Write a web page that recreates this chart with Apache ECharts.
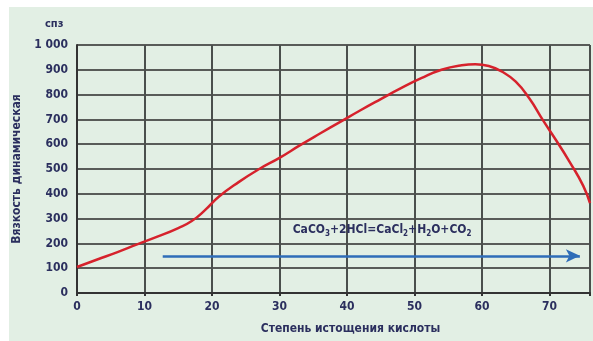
<!DOCTYPE html>
<html><head><meta charset="utf-8">
<script src="https://cdn.jsdelivr.net/npm/echarts@6/dist/echarts.min.js"></script>
<style>html,body{margin:0;padding:0;background:#fff}#c{width:593px;height:341px}</style>
</head><body><div id="c"></div>
<script>
// data
const depletion = [0,3,6,9,12,15,17,19,21,24,27,30,33,36,39,42,45,48,51,54,57,59,61,63,65,67,69,71,73,75,76];
const viscosity = [105,135,165,197,228,262,290,335,388,448,500,545,595,643,690,737,782,826,866,900,918,922,915,892,852,785,698,615,528,432,362];
const arrowX = [12.7, 74.5];
const arrowY = 150;
const yTicks = [0,100,200,300,400,500,600,700,800,900,1000];
const xTicks = [0,10,20,30,40,50,60,70];
const formulaPos = [45.2, 254];

const F = '"DejaVu Sans Condensed", "Liberation Sans Narrow", sans-serif';
const TXT = '#2b2f5e';
const chart = echarts.init(document.getElementById('c'));
chart.setOption({
  animation:false,
  backgroundColor:'#fff',
  graphic:[{type:'rect', z:-10, shape:{x:9,y:7,width:584,height:334}, style:{fill:'#e2efe4'}}],
  title:{text:'спз', left:40, top:14, textStyle:{fontFamily:F,fontWeight:'bold',fontSize:11,color:TXT}},
  grid:{left:77,right:0,top:45,bottom:48,containLabel:false},
  xAxis:{type:'value',min:0,max:76,interval:10,
    name:'Степень истощения кислоты',nameLocation:'middle',nameGap:30,
    nameTextStyle:{fontFamily:F,fontWeight:'bold',fontSize:12,color:TXT,padding:[0,0,0,34]},
    axisLine:{show:true,onZero:false,lineStyle:{color:'#333',width:2}},
    axisTick:{show:true,length:3,lineStyle:{color:'#333',width:2}},
    axisLabel:{fontFamily:F,fontWeight:'bold',fontSize:12,color:TXT,margin:8,
      formatter:v=> xTicks.includes(v)? String(v):''},
    splitLine:{show:true,lineStyle:{color:'#4a4f4c',width:2}}},
  yAxis:{type:'value',min:0,max:1000,interval:100,
    name:'Вязкость динамическая',nameLocation:'middle',nameGap:48,nameRotate:90,
    nameTextStyle:{fontFamily:F,fontWeight:'bold',fontSize:12,color:TXT},
    axisLine:{show:true,lineStyle:{color:'#333',width:2}},
    axisTick:{show:false},
    axisLabel:{fontFamily:F,fontWeight:'bold',fontSize:12,color:TXT,margin:9,
      formatter:v=> yTicks.includes(v)? (v>=1000? String(v).replace(/(\d)(\d{3})$/,'$1 $2'):String(v)):''},
    splitLine:{show:true,lineStyle:{color:'#2a2a2a',width:1.5}}},
  series:[
    {type:'line',data:depletion.map((x,i)=>[x,viscosity[i]]),smooth:0.5,showSymbol:false,
     lineStyle:{color:'#d6222c',width:2.5},z:5},
    {type:'line',data:[],
     markLine:{silent:true,symbol:['none','arrow'],symbolSize:[10,14],
       lineStyle:{color:'#2e6db8',width:2.5,type:'solid'},label:{show:false},
       data:[[{coord:[arrowX[0],arrowY]},{coord:[arrowX[1],arrowY]}]]},
     markPoint:{symbol:'rect',symbolSize:1,itemStyle:{color:'rgba(0,0,0,0)'},
       data:[{coord:formulaPos,value:''}],
       label:{show:true,position:'inside',
         formatter:'CaCO{s|3}+2HCl=CaCl{s|2}+H{s|2}O+CO{s|2}',
         fontFamily:F,fontWeight:'bold',fontSize:12,color:TXT,
         rich:{s:{fontFamily:F,fontWeight:'bold',fontSize:8,color:TXT,padding:[8,0,0,0]}}}}}
  ]
});
</script></body></html>
